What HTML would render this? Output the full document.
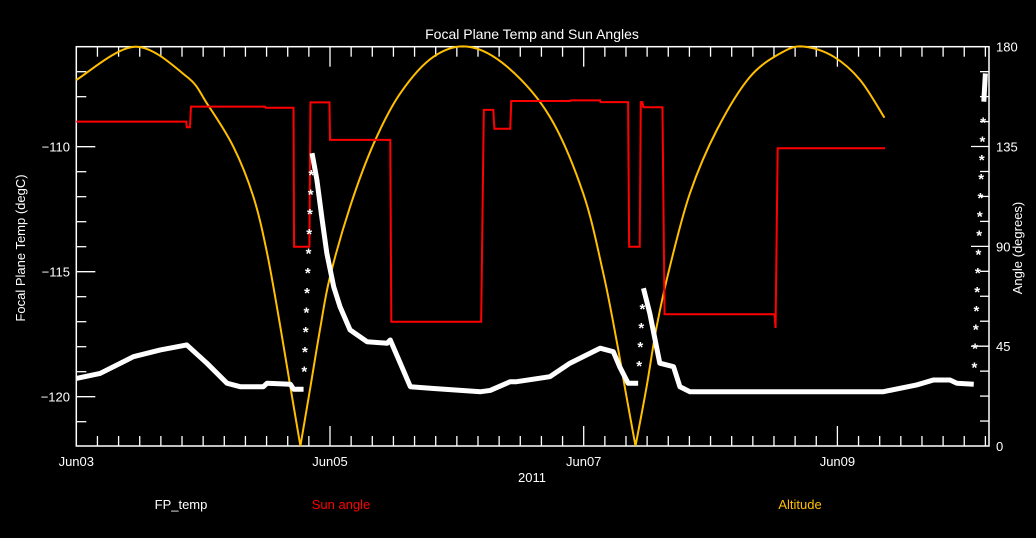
<!DOCTYPE html>
<html><head><meta charset="utf-8">
<style>
html,body{margin:0;padding:0;background:#000;}
svg{display:block;}
text{font-family:"Liberation Sans","DejaVu Sans",sans-serif;fill:#fff;}
</style></head>
<body>
<svg id="chart" width="1036" height="538" viewBox="0 0 1036 538" xmlns="http://www.w3.org/2000/svg">
<rect x="0" y="0" width="1036" height="538" fill="#000"/>
<text x="532" y="39" font-size="14" text-anchor="middle">Focal Plane Temp and Sun Angles</text>
<g id="axes"></g>
<g id="series"></g>
<text x="532" y="482" font-size="13" text-anchor="middle">2011</text>
<text transform="translate(25,248) rotate(-90)" font-size="13" text-anchor="middle">Focal Plane Temp (degC)</text>
<text transform="translate(1022,248) rotate(-90)" font-size="13" text-anchor="middle">Angle (degrees)</text>
<text x="181" y="509" font-size="13" text-anchor="middle">FP_temp</text>
<text x="341" y="509" font-size="13" text-anchor="middle" style="fill:#ff0000">Sun angle</text>
<text x="800" y="509" font-size="13" text-anchor="middle" style="fill:#ffbf00">Altitude</text>
</svg>
<script>
// hours since Jun03 00:00
const xTickLabels = ["Jun03","Jun05","Jun07","Jun09"];
const xTickHours = [0,48,96,144];
const leftTicks = [-110,-115,-120];
const rightTicks = [0,45,90,135,180];

const tempHours = [0,4.5,10.8,15.9,20.9,24.7,28.5,31,35.4,36.1,40.5,41.1,43,44.6,45.5,46.5,47.4,48.7,49.9,51.8,55,58.8,59.4,61.3,63.2,67.6,76.5,78.3,82.1,83.3,89.6,93.4,99.1,101.6,102.8,104.4,106.3,107.3,108.5,110.4,113,114.2,116.1,152.7,159,162.2,165.3,166.6,169.8,171.7,172.0];
const tempValues = [-119.27,-119.07,-118.4,-118.13,-117.93,-118.66,-119.46,-119.6,-119.6,-119.46,-119.5,-119.7,-119.7,-110.26,-111.3,-112.9,-114.26,-115.6,-116.4,-117.33,-117.8,-117.86,-117.73,-118.66,-119.6,-119.67,-119.8,-119.75,-119.4,-119.4,-119.2,-118.66,-118.06,-118.2,-118.8,-119.46,-119.46,-115.66,-116.66,-118.66,-118.8,-119.6,-119.8,-119.8,-119.53,-119.33,-119.33,-119.46,-119.5,-108.2,-107.07];

const sunHours = [0,20.8,20.9,21.5,21.7,35.7,35.8,41.1,41.2,44.1,44.3,47.9,48.0,59.4,59.6,76.6,77.1,78.9,79.1,82.1,82.3,93.4,93.5,99.1,99.2,104.4,104.6,106.6,106.8,107.1,107.3,110.9,111.3,132.1,132.3,132.7,153.0];
const sunValues = [146.2,146.2,143.7,143.7,153,153,152.5,152.5,89.8,89.8,154.9,154.9,138,138,56,56,151.5,151.5,143,143,155.5,155.5,155.8,155.8,155,155,89.8,89.8,155,155,152.7,152.7,59.4,59.4,53.2,134.2,134.2];

const altHours = [0,11.1,20.9,24.7,29.7,33.5,36.1,38.6,40.5,42.4,44.3,46.2,48.0,51.8,56.3,61.3,67.6,74.2,81.5,89.6,95.9,99.7,102.2,104.1,105.8,107.9,109.8,112.3,116.1,121.2,127.5,133.8,137.9,143.3,148.3,152.9];
const altValues = [165,180,166.5,154.5,135,112.4,86.9,53.8,26.7,0,26.7,53.8,76.3,107.9,136.5,159,175.5,180,171,148.4,113.9,77.9,47.8,22.2,0,26.7,53.8,80.8,113.9,142.5,166.5,177.8,180,175.5,165,148];

const NS="http://www.w3.org/2000/svg";
const L=76.3,R=989,T=46.7,B=446;
const xS=h=>L+h*(507.4/96);
const yT=v=>T+(-106-v)*25;
const yA=a=>B-a*(B-T)/180;
const axes=document.getElementById('axes');
const series=document.getElementById('series');
function mk(tag,attrs,parent){const e=document.createElementNS(NS,tag);for(const k in attrs)e.setAttribute(k,attrs[k]);parent.appendChild(e);return e;}

const frame=mk('rect',{x:L,y:T,width:R-L,height:B-T,fill:'none',stroke:'#fff','stroke-width':1.5},axes);



for(let h=4;h*507.4/96+L<R-1;h+=4){
  const x=xS(h);const len=(h%48===0)?20:10;
  const t1=mk('line',{x1:x,x2:x,y1:B,y2:B-len,stroke:'#fff','stroke-width':1.3},axes);
  
  
  const t2=mk('line',{x1:x,x2:x,y1:T,y2:T+len,stroke:'#fff','stroke-width':1.3},axes);
  
  
}
xTickLabels.forEach((s,i)=>{
  const t=mk('text',{x:xS(xTickHours[i]),y:466,'font-size':13,'text-anchor':'middle'},axes);
  t.textContent=s;
  
  
});
for(let v=-107;v>=-121;v--){
  const y=yT(v);const len=(v%5===0)?19:10;
  const t=mk('line',{x1:L,x2:L+len,y1:y,y2:y,stroke:'#fff','stroke-width':1.3},axes);
  
  
}
leftTicks.forEach(v=>{
  const t=mk('text',{x:70,y:yT(v)+5,'font-size':13,'text-anchor':'end'},axes);
  t.textContent='\u2212'+Math.abs(v);
  
  
});
for(let k=1;k<16;k++){
  const a=k*11.25;const y=yA(a);const len=(k%4===0)?18:9;
  const t=mk('line',{x1:R,x2:R-len,y1:y,y2:y,stroke:'#fff','stroke-width':1.3},axes);
  
  
}
rightTicks.forEach(a=>{
  const t=mk('text',{x:996,y:yA(a)+5,'font-size':13,'text-anchor':'start'},axes);
  t.textContent=String(a);
  
  
});

function smoothPath(pts,breakIdx){
  let d='M'+pts[0][0]+','+pts[0][1];
  for(let i=0;i<pts.length-1;i++){
    const p0=(i>0&&!breakIdx.has(i))?pts[i-1]:pts[i];
    const p1=pts[i],p2=pts[i+1];
    const p3=(i+2<pts.length&&!breakIdx.has(i+1))?pts[i+2]:p2;
    const c1=[p1[0]+(p2[0]-p0[0])/6,p1[1]+(p2[1]-p0[1])/6];
    const c2=[p2[0]-(p3[0]-p1[0])/6,p2[1]-(p3[1]-p1[1])/6];
    d+=' C'+c1[0]+','+c1[1]+' '+c2[0]+','+c2[1]+' '+p2[0]+','+p2[1];
  }
  return d;
}
const altPts=altHours.map((h,i)=>[xS(h),yA(altValues[i])]);
const zeros=new Set();altValues.forEach((v,i)=>{if(v===0)zeros.add(i);});
const ap=mk('path',{d:smoothPath(altPts,zeros),fill:'none',stroke:'#ffbf00','stroke-width':2},series);



const sp=mk('polyline',{points:sunHours.map((h,i)=>xS(h)+','+yA(sunValues[i])).join(' '),fill:'none',stroke:'#ff0000','stroke-width':2},series);



let seg=[];
function flush(){
  if(seg.length>1){
    const p=mk('polyline',{points:seg.map(q=>q.join(',')).join(' '),fill:'none',stroke:'#fff','stroke-width':5,'stroke-linejoin':'round'},series);
    
    
  }
  seg=[];
}
for(let i=0;i<tempHours.length;i++){
  const pt=[xS(tempHours[i]),yT(tempValues[i])];
  if(i>0 && tempValues[i]-tempValues[i-1]>2.5){
    const a=[xS(tempHours[i-1]),yT(tempValues[i-1])];
    flush();
    const n=Math.max(2,Math.round((a[1]-pt[1])/19));
    for(let k=1;k<n;k++){
      const x=a[0]+(pt[0]-a[0])*k/n, y=a[1]+(pt[1]-a[1])*k/n;
      const s=mk('text',{x:x,y:y+7,'font-size':15,'text-anchor':'middle','font-weight':'bold'},series);
      s.textContent='*';
      
      
    }
  }
  seg.push(pt);
}
flush();
</script>
</body></html>
